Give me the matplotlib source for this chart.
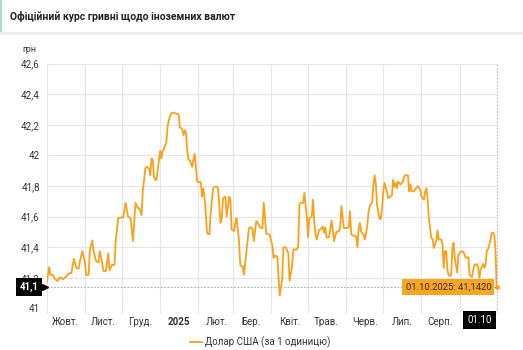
import matplotlib
matplotlib.use("Agg")
import matplotlib.pyplot as plt
import matplotlib.transforms as mtransforms
import matplotlib.dates as mdates
from matplotlib.patches import Rectangle
import pandas as pd

plt.rcParams['font.family'] = ['Roboto', 'DejaVu Sans']

# ---------------- data ----------------
start_date = "2024-10-01"
end_date = "2025-10-01"
day_offsets = [0, 2, 3, 5, 7, 9, 10, 12, 13, 16, 18, 20, 22, 24, 26, 27, 29, 31, 32, 34,
               35, 37, 38, 40, 42, 43, 45, 46, 48, 50, 51, 53, 55, 56, 58, 61, 62, 64, 66, 68,
               70, 72, 74, 75, 77, 78, 79, 80, 81, 83, 84, 85, 86, 87, 88, 89, 91, 92, 93, 94,
               95, 97, 98, 99, 101, 103, 104, 106, 107, 108, 110, 111, 112, 113, 114, 115, 116, 118, 119, 120,
               121, 122, 123, 125, 126, 127, 128, 129, 130, 131, 132, 133, 135, 136, 138, 139, 140, 141, 142, 143,
               145, 146, 148, 149, 150, 152, 153, 154, 156, 157, 158, 159, 160, 162, 164, 165, 167, 168, 170, 171,
               173, 175, 176, 177, 178, 180, 181, 183, 184, 185, 187, 188, 189, 191, 192, 194, 196, 197, 199, 200,
               201, 203, 204, 205, 206, 208, 209, 210, 211, 212, 213, 215, 216, 217, 218, 219, 221, 222, 224, 225,
               226, 227, 229, 230, 231, 232, 233, 235, 237, 238, 239, 240, 241, 243, 245, 246, 247, 249, 251, 252,
               253, 254, 255, 256, 257, 258, 260, 261, 262, 264, 265, 266, 267, 268, 270, 271, 272, 273, 274, 276,
               277, 278, 280, 281, 282, 283, 284, 285, 286, 287, 289, 290, 291, 293, 294, 295, 296, 298, 299, 301,
               303, 304, 306, 307, 308, 309, 310, 312, 313, 314, 316, 317, 318, 320, 321, 322, 323, 324, 325, 326,
               328, 329, 330, 331, 333, 334, 336, 337, 338, 340, 342, 343, 345, 346, 347, 349, 350, 351, 352, 354,
               355, 356, 357, 358, 360, 361, 362, 363, 364, 365]
usd_rate = [41.167, 41.27, 41.22, 41.22, 41.19, 41.18, 41.20, 41.20, 41.19, 41.21, 41.23, 41.23, 41.325, 41.265, 41.26, 41.31, 41.375, 41.30, 41.22, 41.22,
            41.38, 41.445, 41.375, 41.31, 41.30, 41.375, 41.30, 41.245, 41.245, 41.36, 41.25, 41.285, 41.285, 41.445, 41.59, 41.595, 41.595, 41.69, 41.60, 41.59,
            41.44, 41.69, 41.655, 41.655, 41.61, 41.775, 41.84, 41.915, 41.925, 41.915, 41.87, 41.98, 41.97, 41.86, 41.84, 41.84, 41.97, 42.03, 41.98, 42.03,
            42.04, 42.085, 42.185, 42.23, 42.275, 42.28, 42.275, 42.27, 42.27, 42.185, 42.17, 42.13, 42.165, 42.15, 42.03, 41.97, 41.97, 41.925, 41.97, 42.01,
            41.925, 41.83, 41.825, 41.825, 41.73, 41.785, 41.73, 41.625, 41.495, 41.485, 41.485, 41.625, 41.785, 41.795, 41.795, 41.785, 41.67, 41.56, 41.59, 41.72,
            41.73, 41.60, 41.73, 41.71, 41.515, 41.505, 41.56, 41.59, 41.44, 41.285, 41.275, 41.275, 41.22, 41.37, 41.525, 41.53, 41.52, 41.44, 41.57, 41.56,
            41.53, 41.525, 41.69, 41.60, 41.49, 41.485, 41.48, 41.41, 41.33, 41.345, 41.34, 41.21, 41.085, 41.19, 41.40, 41.40, 41.36, 41.18, 41.275, 41.385,
            41.385, 41.385, 41.41, 41.68, 41.69, 41.69, 41.755, 41.68, 41.60, 41.465, 41.59, 41.60, 41.71, 41.57, 41.485, 41.45, 41.515, 41.515, 41.535, 41.495,
            41.53, 41.465, 41.465, 41.515, 41.575, 41.515, 41.44, 41.50, 41.505, 41.525, 41.67, 41.60, 41.525, 41.525, 41.53, 41.635, 41.485, 41.475, 41.47, 41.40,
            41.515, 41.56, 41.505, 41.49, 41.485, 41.45, 41.535, 41.625, 41.67, 41.695, 41.81, 41.87, 41.81, 41.67, 41.585, 41.585, 41.655, 41.765, 41.82, 41.76,
            41.72, 41.725, 41.74, 41.84, 41.795, 41.82, 41.785, 41.83, 41.82, 41.81, 41.83, 41.865, 41.87, 41.87, 41.765, 41.81, 41.765, 41.765, 41.78, 41.80,
            41.775, 41.73, 41.71, 41.765, 41.785, 41.71, 41.585, 41.46, 41.455, 41.395, 41.44, 41.51, 41.45, 41.45, 41.42, 41.265, 41.375, 41.375, 41.255, 41.215,
            41.215, 41.385, 41.43, 41.33, 41.235, 41.35, 41.375, 41.37, 41.37, 41.33, 41.335, 41.22, 41.205, 41.255, 41.285, 41.29, 41.265, 41.20, 41.255, 41.29,
            41.265, 41.29, 41.38, 41.385, 41.45, 41.495, 41.495, 41.485, 41.385, 41.142]
month_labels = ['Жовт.', 'Лист.', 'Груд.', '2025', 'Лют.', 'Бер.', 'Квіт.', 'Трав.', 'Черв.', 'Лип.', 'Серп.']
y_ticks = [41.0, 41.2, 41.4, 41.6, 41.8, 42.0, 42.2, 42.4, 42.6]
y_tick_labels = ['41', '41,2', '41,4', '41,6', '41,8', '42', '42,2', '42,4', '42,6']
title = 'Офіційний курс гривні щодо іноземних валют'
series_name = 'Долар США (за 1 одиницю)'
unit = 'грн'
last_label = '01.10.2025: 41,1420'
cross_y_label = '41,1'
cross_x_label = '01.10'

# ---------------- figure ----------------
W, H = 523, 350
fig = plt.figure(figsize=(W / 100, H / 100), dpi=100)
fig.patch.set_facecolor('white')

def fx(x):
    return x / W

def fy(y):
    return 1 - y / H

ORANGE = '#f9a11b'
TXT = '#333333'
GRID = '#e6e6e6'

# header decorations
fig.add_artist(Rectangle((0, fy(32)), fx(1.5), 32 / H, transform=fig.transFigure,
                         facecolor='#a8dcc0', edgecolor='none'))
fig.add_artist(Rectangle((0, fy(35)), 1, 3 / H, transform=fig.transFigure,
                         facecolor='#efefef', edgecolor='none'))
fig.text(fx(10), fy(16), title, fontsize=7.5, fontweight='bold', color='#222222',
         ha='left', va='center')

left, right, top, bottom = 46.7, 496.7, 63.5, 308.5
ax = fig.add_axes([fx(left), fy(bottom), fx(right - left), (bottom - top) / H])

dates = pd.Timestamp(start_date) + pd.to_timedelta(day_offsets, unit='D')
ax.plot(dates, usd_rate, color=ORANGE, lw=1.3, solid_joinstyle='round', zorder=3)

x0, x1 = pd.Timestamp(start_date), pd.Timestamp(end_date)
ax.set_xlim(x0, x1)
ax.set_ylim(41.0, 42.6)

month_starts = pd.date_range(x0, x1, freq='MS')
mid_months = [d + pd.Timedelta(days=15) for d in month_starts[:len(month_labels)]]
ax.set_xticks(month_starts)
ax.set_xticklabels([''] * len(month_starts))
ax.set_xticks(mid_months, minor=True)
ax.set_xticklabels(month_labels, minor=True)
ax.tick_params(axis='x', which='major', length=3, color=GRID, width=0.8)
ax.tick_params(axis='x', which='minor', length=0, pad=6, labelsize=7, labelcolor=TXT)
for lbl in ax.get_xticklabels(minor=True):
    if lbl.get_text() == '2025':
        lbl.set_fontweight('bold')

ax.set_yticks(y_ticks)
ax.set_yticklabels(y_tick_labels)
ax.tick_params(axis='y', length=0, pad=5, labelsize=7, labelcolor=TXT)

ax.grid(True, which='major', color=GRID, lw=0.8)
ax.set_axisbelow(True)
for s in ax.spines.values():
    s.set_visible(False)

# crosshairs
last_val = usd_rate[-1]
x1n = mdates.date2num(x1)
ax.axhline(last_val, color='#aaaaaa', lw=0.8, ls=(0, (1.5, 1.5)), zorder=2)
ax.axvline(x1, color='#bbbbbb', lw=0.8, ls=(0, (1.5, 1.5)), zorder=2, clip_on=False)

# y crosshair label (black box on left)
blend_y = mtransforms.blended_transform_factory(fig.transFigure, ax.transData)
fig.text(fx(29), last_val, cross_y_label, transform=blend_y, fontsize=7, fontweight='bold',
         color='white', ha='center', va='center', zorder=10,
         bbox=dict(boxstyle='square,pad=0.4', facecolor='black', edgecolor='none'))
fig.add_artist(plt.Line2D([fx(44.5)], [last_val], transform=blend_y, marker='>', markersize=4,
                          color='black', linestyle='none', zorder=10))

# x crosshair label (black box below axis)
blend_x = mtransforms.blended_transform_factory(ax.transData, fig.transFigure)
ax.text(x1n - 14, fy(320), cross_x_label, transform=blend_x, fontsize=7,
        color='white', ha='center', va='center', zorder=10, clip_on=False,
        bbox=dict(boxstyle='square,pad=0.45', facecolor='black', edgecolor='none'))

# tooltip for last point
ax.plot([x1], [last_val], marker='o', ms=2.5, color=ORANGE, zorder=4, clip_on=False)
ax.annotate(last_label, xy=(x1n, last_val), xytext=(-4, 0), textcoords='offset points',
            ha='right', va='center', fontsize=6.8, color=TXT, zorder=10,
            bbox=dict(boxstyle='square,pad=0.35', facecolor='#f8a521', edgecolor='none'))

# axis unit label
fig.text(fx(29), fy(49), unit, fontsize=6.5, color=TXT, ha='center', va='center')

# legend
fig.add_artist(plt.Line2D([fx(190), fx(202)], [fy(342), fy(342)], transform=fig.transFigure,
                          color=ORANGE, lw=1.3))
fig.text(fx(205), fy(342), series_name, fontsize=7, color=TXT, ha='left', va='center')

fig.savefig('out.png', dpi=100, facecolor='white')
